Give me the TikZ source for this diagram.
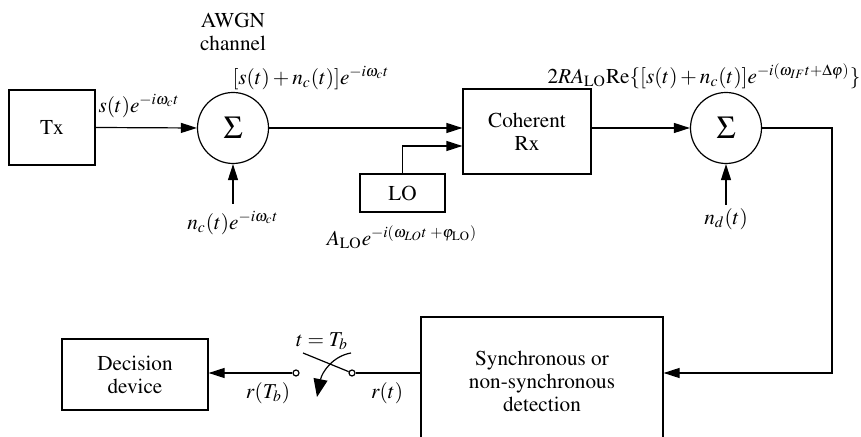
\documentclass[tikz,border=0pt]{standalone}
\usepackage[T1]{fontenc}
\usepackage{mathptmx}
\usetikzlibrary{arrows.meta,positioning}
\tikzset{
  block/.style={draw, rectangle, align=center, inner sep=0pt},
  adder/.style={draw, circle, minimum size=35.5pt, inner sep=0pt, font=\fontsize{16}{18}\selectfont},
  contact/.style={draw, circle, fill=white, minimum size=3pt, inner sep=0pt},
  sig/.style={-{Triangle[length=8pt,width=5pt]}},
}
\begin{document}
\begin{tikzpicture}[x=0.5pt, y=-0.5pt, line width=0.6pt, font=\fontsize{10.6}{11.5}\selectfont]
  \useasboundingbox (0,0) rectangle (861,437);
  % blocks
  \node[block, minimum width=43pt, minimum height=37.5pt] (tx) at (52,127.5) {Tx};
  \node[adder] (s1) at (233,128) {$\Sigma$};
  \node[block, minimum width=64pt, minimum height=42.5pt] (rx) at (527,131.5) {Coherent\\Rx};
  \node[block, minimum width=42.5pt, minimum height=19pt] (lo) at (402.5,193) {LO};
  \node[adder] (s2) at (726,128) {$\Sigma$};
  \node[block, minimum width=121pt, minimum height=64pt] (det) at (542,381) {Synchronous or\\non-synchronous\\detection};
  \node[block, minimum width=73pt, minimum height=35.5pt] (dec) at (135,374.5) {Decision\\device};
  % switch
  \node[contact] (cr) at (352,373) {};
  \node[contact] (cl) at (296,373) {};
  \coordinate (bl) at (303,353);
  \coordinate (lvs) at (351,353);
  \coordinate (lve) at (317,397);
  \coordinate (ncin) at (233,204);
  \coordinate (ndin) at (726,205);
  \coordinate (ret) at (832,373);
  % connectors
  \draw[sig] (tx.east) -- (s1.west);
  \draw[sig] (s1.east) -- (s1.east -| rx.west);
  \draw[sig] (lo.north) |- ([yshift=-7.25pt]rx.west);
  \draw[sig] (ncin) -- (s1.south);
  \draw[sig] (rx.east |- s2.west) -- (s2.west);
  \draw[sig] (ndin) -- (s2.south);
  \draw[sig] (s2.east) -| (ret) -- (ret -| det.east);
  \draw (det.west |- cr) -- (cr);
  \draw (bl) -- (cr);
  \draw[-{Triangle[length=9pt,width=7pt]}] (lvs) .. controls (333,356) and (322,372) .. (lve);
  \draw[sig] (cl) -- (cl -| dec.east);
  % labels
  \node[align=center] (awgn) at (233,32) {AWGN\\channel};
  \node (lbla) at (139,106) {$s(t)e^{-i\omega_c t}$};
  \node (lblb) at (311,78) {$[s(t)+n_c(t)]e^{-i\omega_c t}$};
  \node (lblc) at (233,223) {$n_c(t)e^{-i\omega_c t}$};
  \node (lbld) at (402,237) {$A_{\mathrm{LO}}e^{-i(\omega_{LO}t\;+\varphi_{\mathrm{LO}})}$};
  \node (lble) at (704,76) {$2RA_{\mathrm{LO}}\mathrm{Re}\{[s(t)+n_c(t)]e^{-i(\omega_{IF}t+\Delta\varphi)}\}$};
  \node (lblf) at (726,219) {$n_d(t)$};
  \node (lblg) at (322,341) {$t=T_b$};
  \node (lblh) at (268,393) {$r(T_b)$};
  \node (lbli) at (387,393) {$r(t)$};
\end{tikzpicture}
\end{document}
